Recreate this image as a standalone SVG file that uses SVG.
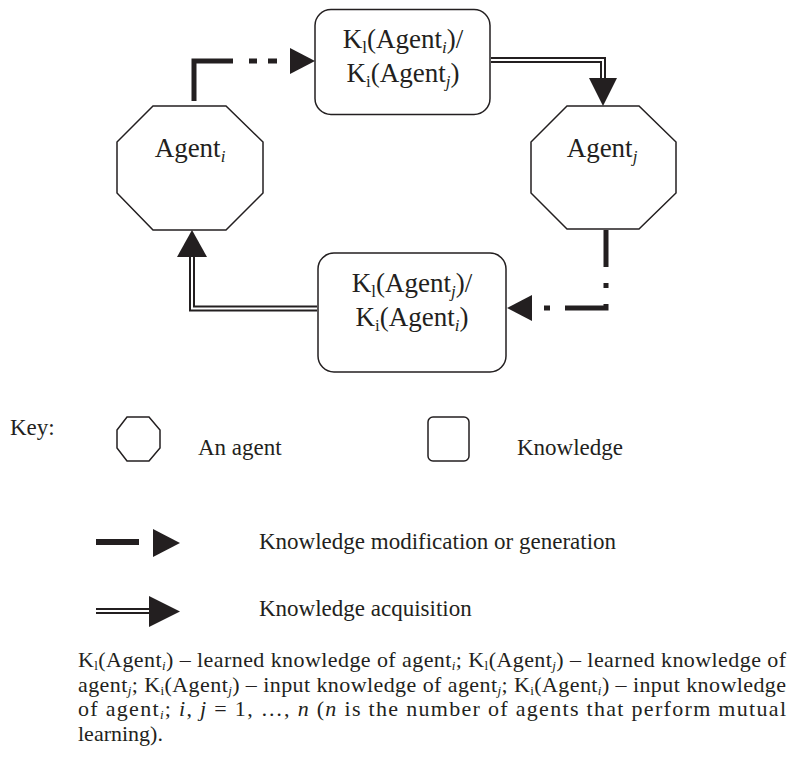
<svg xmlns="http://www.w3.org/2000/svg" width="788" height="760" viewBox="0 0 788 760">
<style>
.shape{fill:#fff;stroke:#231f20;stroke-width:1.5}
.box{fill:#fff;stroke:#231f20;stroke-width:1.5}
.t{font-family:"Liberation Serif","Times New Roman",serif;fill:#231f20}
.big{font-size:27px}
.sub{font-size:17px}
.cap{font-size:22px}
.leg{font-size:23px}
.csub{font-size:13px}
.thick{fill:none;stroke:#231f20;stroke-width:5}
.blk{fill:#231f20}
.dblo{fill:none;stroke:#231f20;stroke-width:6}
.dbli{fill:none;stroke:#fff;stroke-width:2}
</style>
<rect width="788" height="760" fill="#fff"/>

<g id="connectors">
  <g id="c-gen-i">
    <path class="thick" d="M194,101 V61 H233"/>
    <rect class="blk" x="249" y="58.5" width="8" height="5"/>
    <rect class="blk" x="268" y="58.5" width="9" height="5"/>
    <polygon class="blk" points="290,48 290,74 315,61"/>
  </g>
  <g id="c-acq-j">
    <path class="dblo" d="M491,60 H603 V80"/>
    <path class="dbli" d="M491,60 H603 V80"/>
    <polygon class="blk" points="589,78 617,78 603,106"/>
  </g>
  <g id="c-gen-j">
    <path class="thick" d="M606,230 V267"/>
    <rect class="blk" x="603.5" y="283" width="5" height="5"/>
    <path class="thick" d="M606,304 V308 H565"/>
    <rect class="blk" x="544" y="305.5" width="6" height="5"/>
    <polygon class="blk" points="532,295 532,321 507,308"/>
  </g>
  <g id="c-acq-i">
    <path class="dblo" d="M317,308.5 H192 V255"/>
    <path class="dbli" d="M317,308.5 H192 V255"/>
    <polygon class="blk" points="177,257 207,257 192,230"/>
  </g>
</g>

<g id="k-agent-i">
  <rect class="box" x="315" y="9.5" width="175" height="105" rx="16"/>
  <text class="t big" x="403" y="48" text-anchor="middle">K<tspan class="sub" dy="5">l</tspan><tspan dy="-5">(Agent</tspan><tspan class="sub" font-style="italic" dy="5">i</tspan><tspan dy="-5">)/</tspan></text>
  <text class="t big" x="403" y="82" text-anchor="middle">K<tspan class="sub" dy="5">i</tspan><tspan dy="-5">(Agent</tspan><tspan class="sub" font-style="italic" dy="5">j</tspan><tspan dy="-5">)</tspan></text>
</g>

<g id="agent-i">
  <polygon class="shape" points="153,106 226,106 263,142 263,193 226,230 153,230 117,193 117,142"/>
  <text class="t big" x="190" y="157" text-anchor="middle">Agent<tspan class="sub" font-style="italic" dy="5">i</tspan></text>
</g>

<g id="agent-j">
  <polygon class="shape" points="567,106 639,106 676,142 676,193 639,229 567,229 531,193 531,142"/>
  <text class="t big" x="602" y="157" text-anchor="middle">Agent<tspan class="sub" font-style="italic" dy="5">j</tspan></text>
</g>

<g id="k-agent-j">
  <rect class="box" x="318" y="253" width="188" height="119" rx="16"/>
  <text class="t big" x="412" y="292" text-anchor="middle">K<tspan class="sub" dy="5">l</tspan><tspan dy="-5">(Agent</tspan><tspan class="sub" font-style="italic" dy="5">j</tspan><tspan dy="-5">)/</tspan></text>
  <text class="t big" x="412" y="326" text-anchor="middle">K<tspan class="sub" dy="5">i</tspan><tspan dy="-5">(Agent</tspan><tspan class="sub" font-style="italic" dy="5">i</tspan><tspan dy="-5">)</tspan></text>
</g>

<g id="key">
  <text class="t leg" x="10" y="435">Key:</text>
  <polygon class="shape" points="127,417 149,417 160,430 160,448 149,461 127,461 117,448 117,430"/>
  <text class="t leg" x="198" y="455">An agent</text>
  <rect class="box" x="428" y="417" width="41" height="44" rx="5"/>
  <text class="t leg" x="517" y="455">Knowledge</text>

  <rect class="blk" x="96" y="539" width="43" height="6"/>
  <polygon class="blk" points="153,529 153,557 180,543"/>
  <text class="t leg" x="259" y="549">Knowledge modification or generation</text>

  <path class="dblo" d="M96,611 H160"/>
  <path class="dbli" d="M96,611 H160"/>
  <polygon class="blk" points="149,596 149,627 180,611.5"/>
  <text class="t leg" x="259" y="616">Knowledge acquisition</text>
</g>

<g id="caption">
  <text class="t cap" x="78" y="667" textLength="708" lengthAdjust="spacing">K<tspan class="csub" dy="2.5">l</tspan><tspan dy="-2.5">(Agent</tspan><tspan class="csub" font-style="italic" dy="2.5">i</tspan><tspan dy="-2.5">) – learned knowledge of agent</tspan><tspan class="csub" font-style="italic" dy="2.5">i</tspan><tspan dy="-2.5">; K</tspan><tspan class="csub" dy="2.5">l</tspan><tspan dy="-2.5">(Agent</tspan><tspan class="csub" font-style="italic" dy="2.5">j</tspan><tspan dy="-2.5">) – learned knowledge of</tspan></text>
  <text class="t cap" x="78" y="692" textLength="708" lengthAdjust="spacing">agent<tspan class="csub" font-style="italic" dy="2.5">j</tspan><tspan dy="-2.5">; K</tspan><tspan class="csub" dy="2.5">i</tspan><tspan dy="-2.5">(Agent</tspan><tspan class="csub" font-style="italic" dy="2.5">j</tspan><tspan dy="-2.5">) – input knowledge of agent</tspan><tspan class="csub" font-style="italic" dy="2.5">j</tspan><tspan dy="-2.5">; K</tspan><tspan class="csub" dy="2.5">i</tspan><tspan dy="-2.5">(Agent</tspan><tspan class="csub" font-style="italic" dy="2.5">i</tspan><tspan dy="-2.5">) – input knowledge</tspan></text>
  <text class="t cap" x="78" y="716" textLength="708" lengthAdjust="spacing">of agent<tspan class="csub" font-style="italic" dy="2.5">i</tspan><tspan dy="-2.5">; </tspan><tspan font-style="italic">i</tspan>, <tspan font-style="italic">j</tspan> = 1, …, <tspan font-style="italic">n</tspan> (<tspan font-style="italic">n</tspan> is the number of agents that perform mutual</text>
  <text class="t cap" x="78" y="741">learning).</text>
</g>
</svg>
